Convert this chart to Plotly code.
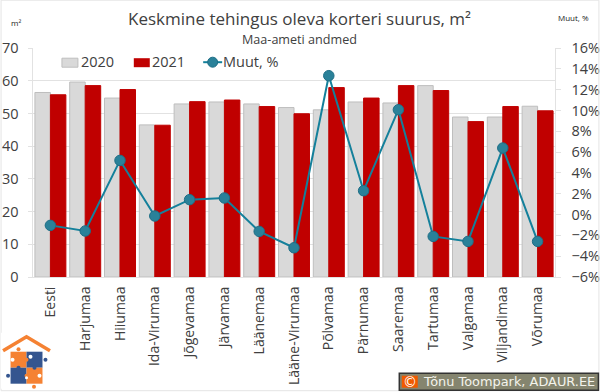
import plotly.graph_objects as go

categories = ["Eesti", "Harjumaa", "Hiiumaa", "Ida-Virumaa", "Jõgevamaa", "Järvamaa", "Läänemaa",
              "Lääne-Virumaa", "Põlvamaa", "Pärnumaa", "Saaremaa", "Tartumaa", "Valgamaa", "Viljandimaa", "Võrumaa"]
values_2020 = [56.4, 59.6, 54.7, 46.5, 52.9, 53.5, 52.9, 51.8, 51.1, 53.5, 53.2, 58.5, 48.9, 48.9, 52.2]
values_2021 = [55.7, 58.5, 57.3, 46.4, 53.6, 54.1, 52.1, 49.9, 57.9, 54.7, 58.5, 57.0, 47.5, 52.1, 50.8]
change_pct = [-1.04, -1.58, 5.2, -0.14, 1.43, 1.59, -1.62, -3.19, 13.34, 2.29, 10.07, -2.1, -2.58, 6.39, -2.58]

W, H = 600, 392
L, R, T, B = 32.5, 555.5, 48.3, 277.3
FONT = "Open Sans"
TXT = "#404040"
GRID = "#E2E2E2"
GRAY, GRAY_EDGE = "#D9D9D9", "#BEBEBE"
RED = "#C00000"
LINE, MARK, MARK_EDGE = "#14809B", "#2A8199", "#1E6E86"

def px(x): return (x - L) / (R - L)
def py(y): return (B - y) / (B - T)

fig = go.Figure()
fig.add_bar(x=categories, y=values_2020, name="2020", marker=dict(color=GRAY, line=dict(color=GRAY_EDGE, width=1)))
fig.add_bar(x=categories, y=values_2021, name="2021", marker=dict(color=RED, line=dict(color=RED, width=1)))
fig.add_scatter(x=categories, y=change_pct, name="Muut, %", yaxis="y2", mode="lines+markers",
                line=dict(color=LINE, width=2),
                marker=dict(size=10.5, color=MARK, line=dict(color=MARK_EDGE, width=1)))

shapes = []
def rect(x0, y0, x1, y1, fill, line=None, lw=0, layer="above"):
    shapes.append(dict(type="rect", xref="paper", yref="paper", x0=px(x0), x1=px(x1), y0=py(y0), y1=py(y1),
                       fillcolor=fill, line=dict(color=line or fill, width=lw), layer=layer))
def circ(cx, cy, r, fill, edge=None):
    shapes.append(dict(type="circle", xref="paper", yref="paper", x0=px(cx-r), x1=px(cx+r), y0=py(cy-r), y1=py(cy+r),
                       fillcolor=fill, line=dict(color=edge or fill, width=1 if edge else 0), layer="above"))

# break in the top gridline under the title block
rect(126, 45, 474, 50, "white")
# outer frame
shapes.append(dict(type="rect", xref="paper", yref="paper", x0=px(0.5), x1=px(599.5), y0=py(0.5), y1=py(391),
                   fillcolor="rgba(0,0,0,0)", line=dict(color="#E4E4E4", width=1), layer="above"))
# legend keys
rect(61.5, 58.5, 77.5, 67.5, GRAY, GRAY_EDGE, 1)
rect(133.5, 58.5, 149.5, 67.5, RED)
shapes.append(dict(type="line", xref="paper", yref="paper", x0=px(203), x1=px(222), y0=py(62.5), y1=py(62.5),
                   line=dict(color=LINE, width=2), layer="above"))
circ(212.5, 62.5, 5, MARK, MARK_EDGE)
# logo
ORANGE, BLUE = "#F58233", "#34558F"
rect(0.5, 333, 52, 389, "white")
shapes.append(dict(type="path", xref="paper", yref="paper",
                   path=f"M {px(2.5)} {py(351)} L {px(26)} {py(337)} L {px(49.5)} {py(351)}",
                   line=dict(color=ORANGE, width=3.5), fillcolor="rgba(0,0,0,0)", layer="above"))
rect(10, 352, 26, 368, ORANGE)
rect(26, 352, 42, 368, BLUE)
rect(10, 368, 26, 384, BLUE)
rect(26, 368, 42, 384, ORANGE)
for cx, cy, r, c in [(18, 349.5, 2, ORANGE), (34, 368, 2, BLUE), (45, 360, 2, BLUE), (7.5, 376, 2, BLUE),
                     (33.5, 387, 2, ORANGE), (18, 368, 2, BLUE), (26, 376, 2, ORANGE), (26, 360, 2, ORANGE),
                     (12, 360, 2, "white"), (30, 357, 2, "white"), (39, 376, 2, "white"), (26, 378, 1.5, "white")]:
    circ(cx, cy, r, c)
# copyright plate
rect(399.5, 373.5, 599, 390.5, "#85856F", "#333333", 1.5)
rect(402, 376, 418, 388, "#F05A00")

def note(x, y, text, size, color=TXT, anchor="center", family=FONT):
    return dict(xref="paper", yref="paper", x=px(x), y=py(y), text=text, showarrow=False, xanchor=anchor,
                yanchor="middle", font=dict(size=size, color=color, family=family))

annotations = [
    note(300, 18.5, "Keskmine tehingus oleva korteri suurus, m²", 17),
    note(300, 39.5, "Maa-ameti andmed", 12.6),
    note(15, 23, "m²", 8, "#222222"),
    note(574, 18, "Muut, %", 8, "#222222"),
    note(79, 62, "2020", 14.5, anchor="left"),
    note(150, 62, "2021", 14.5, anchor="left"),
    note(221, 62, "Muut, %", 14.5, anchor="left"),
    note(410, 382, "©", 14, "white", family="DejaVu Sans"),
    note(421, 382, "Tõnu Toompark, ADAUR.EE", 12.9, "#F4F4EC", "left", "DejaVu Sans"),
]

fig.update_layout(
    width=W, height=H, autosize=False, margin=dict(l=L, r=W-R, t=T, b=H-B, autoexpand=False),
    paper_bgcolor="white", plot_bgcolor="white", font=dict(family=FONT, color=TXT),
    barmode="group", bargap=0.11, bargroupgap=0,
    showlegend=False,
    xaxis=dict(type="category", tickangle=-90, ticks="", showgrid=False, showline=True, linecolor=GRID, linewidth=1,
               tickfont=dict(size=14, color=TXT), ticklabelstandoff=3, range=[-0.5, 14.5], automargin=False),
    yaxis=dict(range=[0, 70], dtick=10, showgrid=True, gridcolor=GRID, gridwidth=1, showline=True, linecolor=GRID,
               linewidth=1, ticks="outside", ticklen=4.5, tickcolor=GRID, tickfont=dict(size=14.5, color=TXT),
               ticklabelstandoff=6, zeroline=False, automargin=False),
    yaxis2=dict(overlaying="y", side="right", range=[-6, 16], dtick=2, ticksuffix="%", showgrid=False, showline=True,
                linecolor=GRID, linewidth=1, ticks="outside", ticklen=4.5, tickcolor=GRID, zeroline=False,
                tickfont=dict(size=14.5, color=TXT), ticklabelstandoff=8, automargin=False),
    shapes=shapes, annotations=annotations,
)
fig.write_html("out.html", config={"displayModeBar": False},
               post_script="document.body.style.margin='0';document.documentElement.style.overflow='hidden';")
